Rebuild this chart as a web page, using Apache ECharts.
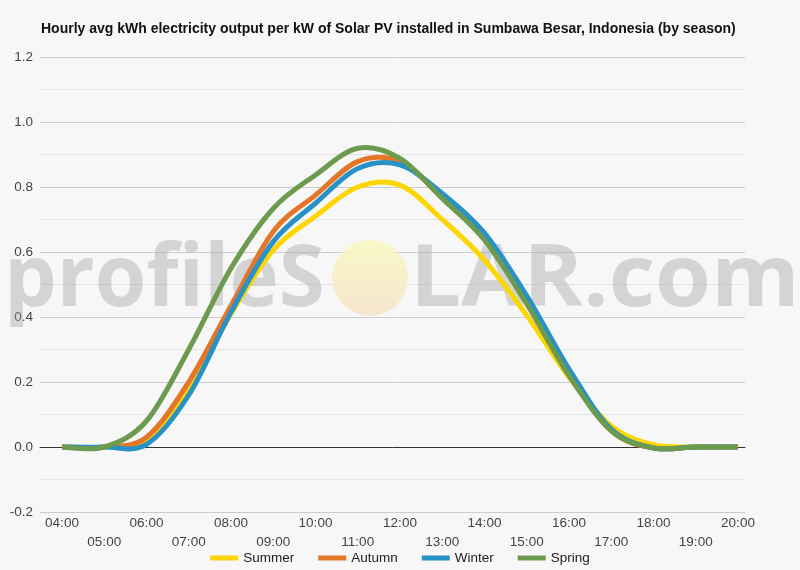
<!DOCTYPE html>
<html>
<head>
<meta charset="utf-8">
<script src="https://cdn.jsdelivr.net/npm/echarts@6/dist/echarts.min.js"></script>
<style>
    html, body { margin: 0; padding: 0; background: #f7f7f7; }
    #chart { width: 800px; height: 570px; }
</style>
</head>
<body>
<div id="chart"></div>
<script>
var hours = ['04:00', '05:00', '06:00', '07:00', '08:00', '09:00', '10:00', '11:00', '12:00',
    '13:00', '14:00', '15:00', '16:00', '17:00', '18:00', '19:00', '20:00'];

// kWh per kW for each hour
var summer = [0, 0, 0.02, 0.18, 0.41, 0.606, 0.71, 0.8, 0.806, 0.7, 0.575, 0.405, 0.215, 0.065, 0.007, 0, 0];
var autumn = [0, 0, 0.03, 0.2, 0.435, 0.663, 0.775, 0.878, 0.878, 0.77, 0.648, 0.45, 0.23, 0.05, -0.003, 0, 0];
var winter = [0, 0, 0.008, 0.16, 0.415, 0.632, 0.75, 0.857, 0.868, 0.78, 0.658, 0.465, 0.24, 0.055, -0.003, 0, 0];
var spring = [0, 0, 0.08, 0.3, 0.55, 0.734, 0.837, 0.919, 0.888, 0.765, 0.637, 0.44, 0.22, 0.05, -0.003, 0, 0];

var yTicks = [-0.2, 0, 0.2, 0.4, 0.6, 0.8, 1.0, 1.2];

var seasonNames = ['Summer', 'Autumn', 'Winter', 'Spring'];
var seasonColors = ['#fdd600', '#e4762a', '#2892c6', '#6c9a4e'];
var seasonData = [summer, autumn, winter, spring];

var chart = echarts.init(document.getElementById('chart'));

// one path per season, catmull-rom through the hourly points
function renderCurve(params, api) {
    if (params.dataIndexInside !== 0) return null;
    var n = params.dataInsideLength;
    var pts = [];
    for (var k = 0; k < n; k++) {
        pts.push(api.coord([api.value(0, k), api.value(1, k)]));
    }
    var d = 'M' + pts[0][0] + ' ' + pts[0][1];
    for (var j = 0; j < n - 1; j++) {
        var p0 = pts[Math.max(j - 1, 0)], p1 = pts[j], p2 = pts[j + 1], p3 = pts[Math.min(j + 2, n - 1)];
        var c1x = p1[0] + (p2[0] - p0[0]) / 6, c1y = p1[1] + (p2[1] - p0[1]) / 6;
        var c2x = p2[0] - (p3[0] - p1[0]) / 6, c2y = p2[1] - (p3[1] - p1[1]) / 6;
        d += ' C' + c1x + ' ' + c1y + ' ' + c2x + ' ' + c2y + ' ' + p2[0] + ' ' + p2[1];
    }
    return {
        type: 'path',
        shape: { pathData: d },
        style: {
            fill: 'none',
            stroke: api.visual('color'),
            lineWidth: 5,
            lineJoin: 'round',
            lineCap: 'butt'
        }
    };
}

var series = [];
for (var i = 0; i < seasonNames.length; i++) {
    series.push({
        name: seasonNames[i],
        type: 'custom',
        xAxisIndex: 1,
        yAxisIndex: 1,
        renderItem: renderCurve,
        data: seasonData[i].map(function (v, idx) { return [idx, v]; }),
        itemStyle: { color: seasonColors[i] },
        encode: { x: 0, y: 1 }
    });
}

var watermarkFont = 'bold 86px "Open Sans"';
var watermarkFill = 'rgba(160,160,160,0.4)';

var option = {
    backgroundColor: '#f7f7f7',
    animation: false,
    textStyle: { fontFamily: 'Liberation Sans, Arial, sans-serif' },
    title: {
        text: 'Hourly avg kWh electricity output per kW of Solar PV installed in Sumbawa Besar, Indonesia (by season)',
        left: 36,
        top: 17,
        textStyle: { fontSize: 14, fontWeight: 'bold', color: '#111' }
    },
    graphic: [
        {
            type: 'text',
            x: 4,
            y: 324,
            scaleX: 0.97,
            z: 1,
            style: {
                text: 'profileS',
                font: watermarkFont,
                fill: watermarkFill,
                verticalAlign: 'bottom'
            }
        },
        {
            type: 'circle',
            shape: { cx: 370, cy: 278, r: 38 },
            z: 1,
            style: {
                fill: {
                    type: 'linear', x: 0, y: 0, x2: 0, y2: 1,
                    colorStops: [
                        { offset: 0, color: 'rgba(250,248,190,0.85)' },
                        { offset: 1, color: 'rgba(246,226,200,0.85)' }
                    ]
                }
            }
        },
        {
            type: 'text',
            x: 410,
            y: 324,
            scaleX: 1.05,
            z: 1,
            style: {
                text: 'LAR.com',
                font: watermarkFont,
                fill: watermarkFill,
                verticalAlign: 'bottom'
            }
        }
    ],
    legend: {
        top: 551,
        left: 'center',
        padding: 0,
        itemWidth: 28,
        itemHeight: 5,
        itemGap: 24,
        icon: 'rect',
        textStyle: { fontSize: 13.5, color: '#222' },
        data: seasonNames
    },
    grid: [
        { left: 40, right: 55, top: 57, bottom: 58 },
        { left: 62, right: 62, top: 57, bottom: 58 }
    ],
    xAxis: [
        {
            // carries only the black zero line
            gridIndex: 0,
            type: 'value',
            min: 0,
            max: 1,
            axisLine: { onZero: true, lineStyle: { color: '#333', width: 1 } },
            axisTick: { show: false },
            axisLabel: { show: false },
            splitLine: { show: false }
        },
        {
            gridIndex: 1,
            type: 'category',
            data: hours,
            boundaryGap: false,
            axisLine: { show: false },
            axisTick: { show: false },
            axisLabel: {
                interval: 0,
                fontSize: 13.5,
                color: '#444',
                lineHeight: 19,
                margin: 2,
                formatter: function (v, idx) { return idx % 2 ? '\n' + v : v; }
            }
        }
    ],
    yAxis: [
        {
            gridIndex: 0,
            type: 'value',
            min: yTicks[0],
            max: yTicks[yTicks.length - 1],
            interval: 0.2,
            axisLine: { show: false },
            axisTick: { show: false },
            axisLabel: {
                fontSize: 13.5,
                color: '#444',
                margin: 7,
                formatter: function (v) { return v.toFixed(1); }
            },
            splitLine: { lineStyle: { color: '#cccccc' } },
            minorTick: { show: false, splitNumber: 2 },
            minorSplitLine: { show: true, lineStyle: { color: '#e4e4e4' } }
        },
        {
            gridIndex: 1,
            type: 'value',
            min: yTicks[0],
            max: yTicks[yTicks.length - 1],
            show: false,
            splitLine: { show: false }
        }
    ],
    series: series
};
chart.setOption(option);
</script>
</body>
</html>
